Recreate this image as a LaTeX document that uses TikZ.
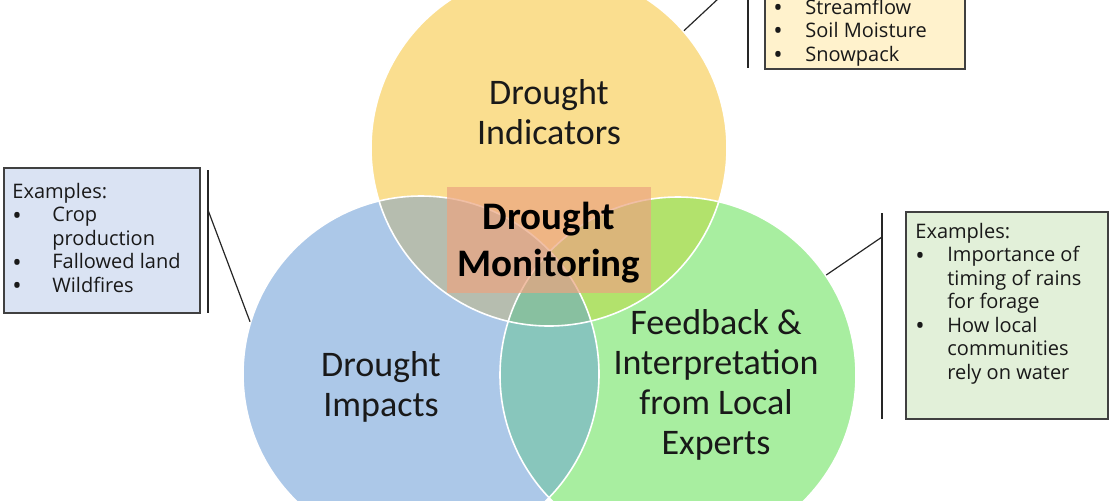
\documentclass[tikz,border=0pt]{standalone}
\usepackage{fontspec}
\setmainfont{Carlito}
\newfontfamily\boxfont{Open Sans}
\usepackage{tikz}

\definecolor{indfill}{RGB}{250,222,143}
\definecolor{impfill}{RGB}{172,200,232}
\definecolor{fbfill}{RGB}{168,238,160}
\definecolor{ibfill}{RGB}{182,189,175}
\definecolor{igfill}{RGB}{178,226,108}
\definecolor{bgfill}{RGB}{136,198,188}
\definecolor{allfill}{RGB}{136,192,160}
\definecolor{monfill}{RGB}{235,164,128}
\definecolor{indbox}{RGB}{255,242,204}
\definecolor{impbox}{RGB}{218,227,243}
\definecolor{fbbox}{RGB}{226,240,217}
\definecolor{boxline}{RGB}{64,64,64}

\newcommand{\exbul}[1][16pt]{\makebox[#1][l]{\raisebox{-0.2ex}{\scalebox{1.25}{\textbullet}}}}
\newcommand{\exgap}[1][16pt]{\hspace*{#1}}

\tikzset{
  venn/.style={circle, draw=white, line width=0.8pt, minimum size=178pt, inner sep=0pt},
  circtext/.style={align=center, text=black!90, font=\fontsize{18}{20}\selectfont},
  monbox/.style={fill=monfill, fill opacity=0.7, text opacity=1, minimum width=102pt,
    minimum height=53pt, inner sep=0pt, align=center, font=\bfseries\fontsize{19.5}{23.5}\selectfont},
  exbox/.style={draw=boxline, line width=0.75pt},
  extext/.style={anchor=north west, align=left, inner sep=0pt, text=black!90,
    font=\boxfont\fontsize{10}{11.75}\selectfont},
  bar/.style={line width=0.6pt, black!85}
}

\begin{document}
\begin{tikzpicture}[x=0.5pt, y=-0.5pt]
\useasboundingbox (0,0) rectangle (1110,500);
\clip (0,0) rectangle (1110,500);

% the three circles
\coordinate (ci) at (549,148);
\coordinate (cb) at (421,374);
\coordinate (cg) at (678,375);
\fill[indfill] (ci) circle[radius=89pt];
\fill[impfill] (cb) circle[radius=89pt];
\fill[fbfill] (cg) circle[radius=89pt];
\begin{scope}
  \clip (cb) circle[radius=89pt];
  \fill[bgfill] (cg) circle[radius=89pt];
\end{scope}
\begin{scope}
  \clip (ci) circle[radius=89pt];
  \fill[ibfill] (cb) circle[radius=89pt];
  \fill[igfill] (cg) circle[radius=89pt];
  \clip (cb) circle[radius=89pt];
  \fill[allfill] (cg) circle[radius=89pt];
\end{scope}
\node[venn] (ind) at (ci) {};
\node[venn] (imp) at (cb) {};
\node[venn] (fb) at (cg) {};

\node[circtext] (indtxt) at (549,112) {Drought\\Indicators};
\node[circtext] (imptxt) at (381,387) {Drought\\Impacts};
\node[circtext] (fbtxt) at (716,385) {Feedback \&\\Interpretation\\from Local\\Experts};
\node[monbox] (mon) at (549,240) {};
\node[align=center, inner sep=0pt, font=\bfseries\fontsize{19.5}{23.5}\selectfont]
  (montxt) at (549,243) {Drought\\Monitoring};

% example boxes
\draw[exbox, fill=indbox] (765,-60) rectangle (965,69);
\node[extext] (indlist) at (773,-2.5) {\strut\exbul Streamflow\\
  \exbul Soil Moisture\\
  \exbul Snowpack};

\draw[exbox, fill=impbox] (4,168) rectangle (200,313);
\node[extext] (implist) at (12,181.5) {\strut Examples:\\
  \exbul[20pt]Crop\\
  \exgap[20pt]production\\
  \exbul[20pt]Fallowed land\\
  \exbul[20pt]Wildfires};

\draw[exbox, fill=fbbox] (906,212) rectangle (1108,419);
\node[extext] (fblist) at (915,221.5) {\strut Examples:\\
  \exbul Importance of\\
  \exgap timing of rains\\
  \exgap for forage\\
  \exbul How local\\
  \exgap communities\\
  \exgap rely on water};

% brackets and leaders
\coordinate (indbartop) at (748,-29);
\coordinate (indbarbot) at (748,68);
\draw[bar] (indbartop) -- (indbarbot);
\draw[bar] (indbartop) -- (ind.41);

\coordinate (impbartop) at (208,170);
\coordinate (impbarbot) at (208,313);
\coordinate (impbarmid) at (208,210);
\draw[bar] (impbartop) -- (impbarbot);
\draw[bar] (impbarmid) -- (imp.163);

\coordinate (fbbartop) at (882,213);
\coordinate (fbbarbot) at (882,419);
\coordinate (fbbarmid) at (882,237);
\draw[bar] (fbbartop) -- (fbbarbot);
\draw[bar] (fbbarmid) -- (fb.34);
\end{tikzpicture}
\end{document}
